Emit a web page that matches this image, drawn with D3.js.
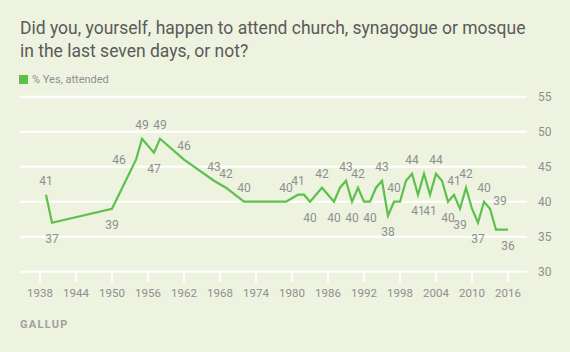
<!DOCTYPE html>
<html lang="en">
<head>
<meta charset="utf-8">
<title>Church attendance</title>
<script src="https://cdn.jsdelivr.net/npm/d3@7"></script>
<style>
	body { margin: 0; background: #edf3df; }
	svg { display: block; font-family: Roboto, "Noto Sans", sans-serif; }
</style>
</head>
<body>
<script>
// survey years and % who attended in the last seven days
const years = [1939, 1940, 1950, 1954, 1955, 1957, 1958, 1962, 1967, 1969, 1972, 1979, 1981, 1982,
	1983, 1985, 1987, 1988, 1989, 1990, 1991, 1992, 1993, 1994, 1995, 1996, 1997, 1998, 1999, 2000,
	2001, 2002, 2003, 2004, 2005, 2006, 2007, 2008, 2009, 2010, 2011, 2012, 2013, 2014, 2015, 2016];
const values = [41, 37, 39, 46, 49, 47, 49, 46, 43, 42, 40, 40, 41, 41,
	40, 42, 40, 42, 43, 40, 42, 40, 40, 42, 43, 38, 40, 40, 43, 44,
	41, 44, 41, 44, 43, 40, 41, 39, 42, 39, 37, 40, 39, 36, 36, 36];

// which points carry a value label
const labelAbove = [1939, 1955, 1958, 1962, 1967, 1969, 1972, 1979, 1981, 1985, 1989, 1991, 1995,
	1997, 2000, 2004, 2007, 2009, 2012];
const labelBelow = [1940, 1950, 1957, 1983, 1987, 1990, 1993, 1996, 2001, 2003, 2006, 2008, 2011, 2016];
const labelLeft = [1954];
const labelRight = [2013];

const xTicks = d3.range(1938, 2017, 6);
const yTicks = [30, 35, 40, 45, 50, 55];

const w = 570, h = 352;
const green = "#5dbf4c";
const grey = "#8f8f8f";

const svg = d3.select("body").append("svg")
	.attr("width", w)
	.attr("height", h);

const x = d3.scaleLinear().domain([1938, 2016]).range([40, 508]);
const y = d3.scaleLinear().domain([30, 55]).range([271.7, 96.7]);
const left = 20, right = 527;

// title
svg.append("text").attr("x", 20).attr("y", 34)
	.attr("font-size", 17.5).attr("fill", "#5a5a5a")
	.text("Did you, yourself, happen to attend church, synagogue or mosque");
svg.append("text").attr("x", 20).attr("y", 57)
	.attr("font-size", 17.5).attr("fill", "#5a5a5a")
	.text("in the last seven days, or not?");

// legend
svg.append("rect").attr("x", 19).attr("y", 75).attr("width", 9).attr("height", 9).attr("fill", green);
svg.append("text").attr("x", 32).attr("y", 83)
	.attr("font-size", 11).attr("fill", grey)
	.text("% Yes, attended");

// gridlines + y labels
svg.append("g").selectAll("line")
	.data(yTicks).enter().append("line")
	.attr("x1", left).attr("x2", right)
	.attr("y1", d => y(d)).attr("y2", d => y(d))
	.attr("stroke", "#fff").attr("stroke-width", 2);

svg.append("g").selectAll("text")
	.data(yTicks).enter().append("text")
	.attr("x", 538).attr("y", d => y(d))
	.attr("dy", "0.35em")
	.attr("font-size", 12).attr("fill", grey)
	.text(d => d);

// x axis ticks
svg.append("g").selectAll("line")
	.data(xTicks).enter().append("line")
	.attr("x1", d => x(d)).attr("x2", d => x(d))
	.attr("y1", y(30)).attr("y2", y(30) + 10)
	.attr("stroke", "#fff").attr("stroke-width", 2);

svg.append("g").selectAll("text")
	.data(xTicks).enter().append("text")
	.attr("x", d => x(d)).attr("y", 293)
	.attr("dy", "0.35em")
	.attr("text-anchor", "middle")
	.attr("font-size", 11.5).attr("fill", grey)
	.text(d => d);

// line
const pts = years.map((yr, i) => ({ year: yr, value: values[i] }));

svg.append("path")
	.datum(pts)
	.attr("fill", "none")
	.attr("stroke", green)
	.attr("stroke-width", 2.2)
	.attr("stroke-linejoin", "miter")
	.attr("d", d3.line().x(d => x(d.year)).y(d => y(d.value)));

// value labels
const labelled = pts.filter(d => labelAbove.includes(d.year) || labelBelow.includes(d.year)
	|| labelLeft.includes(d.year) || labelRight.includes(d.year));

svg.append("g").selectAll("text")
	.data(labelled).enter().append("text")
	.attr("x", d => {
		if (labelLeft.includes(d.year)) return x(d.year) - 17;
		if (labelRight.includes(d.year)) return x(d.year) + 10;
		return x(d.year);
	})
	.attr("y", d => {
		if (labelAbove.includes(d.year)) return y(d.value) - 14;
		if (labelBelow.includes(d.year)) return y(d.value) + 16;
		if (labelRight.includes(d.year)) return y(d.value) - 8;
		return y(d.value);
	})
	.attr("dy", "0.35em")
	.attr("text-anchor", "middle")
	.attr("font-size", 12).attr("fill", grey)
	.text(d => d.value);

// source
svg.append("text").attr("x", 20).attr("y", 328)
	.attr("font-size", 11).attr("font-weight", "bold")
	.attr("letter-spacing", 1.3).attr("fill", "#a0a0a0")
	.text("GALLUP");
</script>
</body>
</html>
